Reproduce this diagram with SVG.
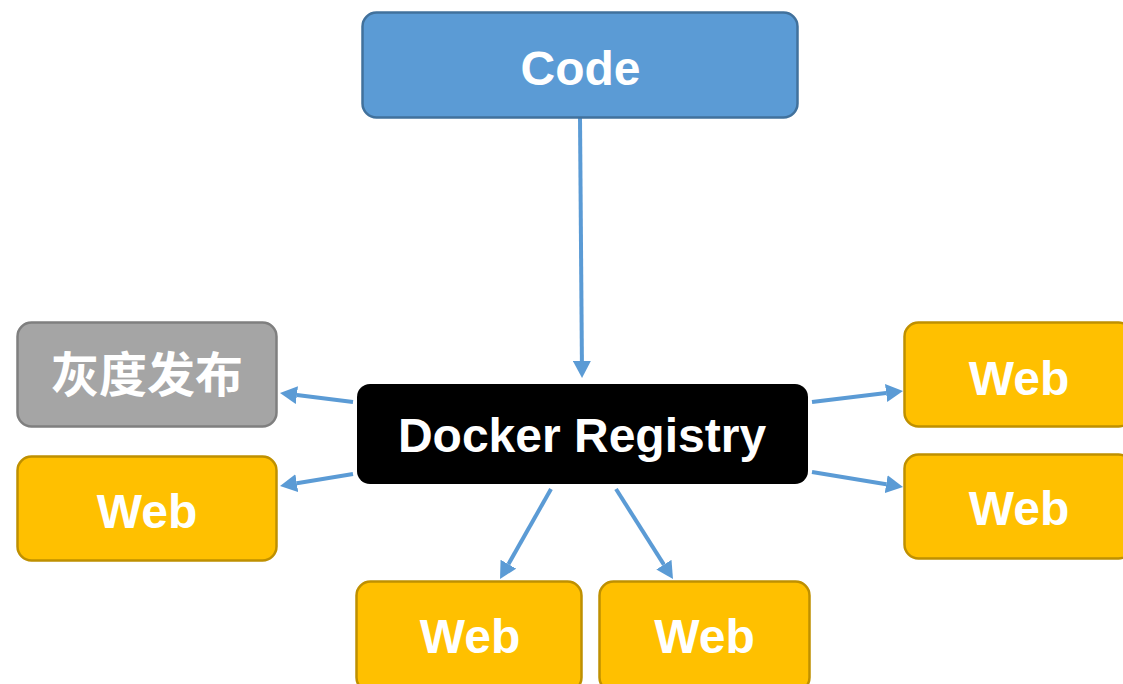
<svg xmlns="http://www.w3.org/2000/svg" width="1123" height="684" viewBox="0 0 1123 684">
<style>
.lbl{font-family:"Liberation Sans",Arial,"Noto Sans CJK SC",sans-serif;font-weight:bold;font-size:48px;fill:#ffffff;text-anchor:middle}
.web{fill:#FFC000;stroke:#BF9000;stroke-width:2.5}
.conn{stroke:#5B9BD5;stroke-width:4;fill:none;marker-end:url(#ah)}
</style>
<defs>
<marker id="ah" viewBox="0 0 17 18" refX="0" refY="9" markerWidth="17" markerHeight="18" markerUnits="userSpaceOnUse" orient="auto">
<path d="M0,0 L17,9 L0,18 z" fill="#5B9BD5"/>
</marker>
</defs>
<rect width="1123" height="684" fill="#ffffff"/>
<g id="connectors">
<line class="conn" x1="580" y1="118" x2="581.9" y2="361"/>
<line class="conn" x1="353" y1="402" x2="296.9" y2="395.1"/>
<line class="conn" x1="353" y1="474" x2="296.8" y2="483.2"/>
<line class="conn" x1="812" y1="402" x2="886.1" y2="393"/>
<line class="conn" x1="812" y1="472" x2="886.2" y2="484.2"/>
<line class="conn" x1="551" y1="489" x2="508.4" y2="564.2"/>
<line class="conn" x1="616" y1="489" x2="663.9" y2="564.6"/>
</g>
<g id="code">
<rect x="362.5" y="12.5" width="435" height="105" rx="14" fill="#5B9BD5" stroke="#41719C" stroke-width="2.5"/>
<text class="lbl" x="580.5" y="84.5">Code</text>
</g>
<g id="registry">
<rect x="357" y="384" width="451" height="100" rx="13" fill="#000000"/>
<text class="lbl" x="582" y="452">Docker Registry</text>
</g>
<g id="gray">
<rect x="17.5" y="322.5" width="259" height="104" rx="14" fill="#A5A5A5" stroke="#7F7F7F" stroke-width="2.5"/>
<text class="lbl" x="147" y="392">灰度发布</text>
</g>
<g id="web-left">
<rect class="web" x="17.5" y="456.5" width="259" height="104" rx="14"/>
<text class="lbl" x="147" y="528">Web</text>
</g>
<g id="web-right-top">
<rect class="web" x="904.5" y="322.5" width="228" height="104" rx="14"/>
<text class="lbl" x="1019" y="395">Web</text>
</g>
<g id="web-right-bottom">
<rect class="web" x="904.5" y="454.5" width="228" height="104" rx="14"/>
<text class="lbl" x="1019" y="525">Web</text>
</g>
<g id="web-bottom-left">
<rect class="web" x="356.5" y="581.5" width="225" height="110" rx="14"/>
<text class="lbl" x="470" y="653">Web</text>
</g>
<g id="web-bottom-right">
<rect class="web" x="599.5" y="581.5" width="210" height="110" rx="14"/>
<text class="lbl" x="704.5" y="653">Web</text>
</g>
</svg>
